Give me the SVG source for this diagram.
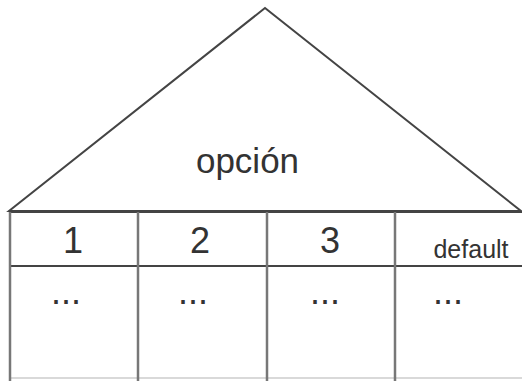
<svg xmlns="http://www.w3.org/2000/svg" width="522" height="381" viewBox="0 0 522 381">
<style>
.t{font-family:"Liberation Sans",Arial,sans-serif;fill:#333;text-anchor:middle}
.ln{stroke:#444;fill:none;stroke-width:2}
.v{stroke:#777;stroke-width:2.5;fill:none}
</style>
<rect width="522" height="381" fill="#fff"/>
<g id="roof">
<polygon points="265,8 9,211 521,211" fill="#fff" stroke="#444" stroke-width="2" stroke-linejoin="miter"/>
<text class="t" x="247.5" y="173" font-size="35">opción</text>
</g>
<g id="connectors">
<line class="ln" x1="9" y1="212" x2="522" y2="212" stroke-width="3" stroke="#3a3a3a"/>
<line class="ln" x1="10" y1="266" x2="522" y2="266"/>
<line x1="10" y1="378" x2="522" y2="378" stroke="#ccc" stroke-width="1.5"/>
<line class="v" x1="10" y1="212" x2="10" y2="381"/>
<line class="v" x1="138" y1="212" x2="138" y2="381"/>
<line class="v" x1="267" y1="212" x2="267" y2="381"/>
<line class="v" x1="395" y1="212" x2="395" y2="381"/>
</g>
<g id="case1"><text class="t" x="73" y="253" font-size="36">1</text><text class="t" x="66" y="304" font-size="36">...</text></g>
<g id="case2"><text class="t" x="200" y="253" font-size="36">2</text><text class="t" x="193" y="304" font-size="36">...</text></g>
<g id="case3"><text class="t" x="330" y="253" font-size="36">3</text><text class="t" x="325" y="304" font-size="36">...</text></g>
<g id="casedefault"><text class="t" x="471" y="258" font-size="25">default</text><text class="t" x="448" y="304" font-size="36">...</text></g>
</svg>
